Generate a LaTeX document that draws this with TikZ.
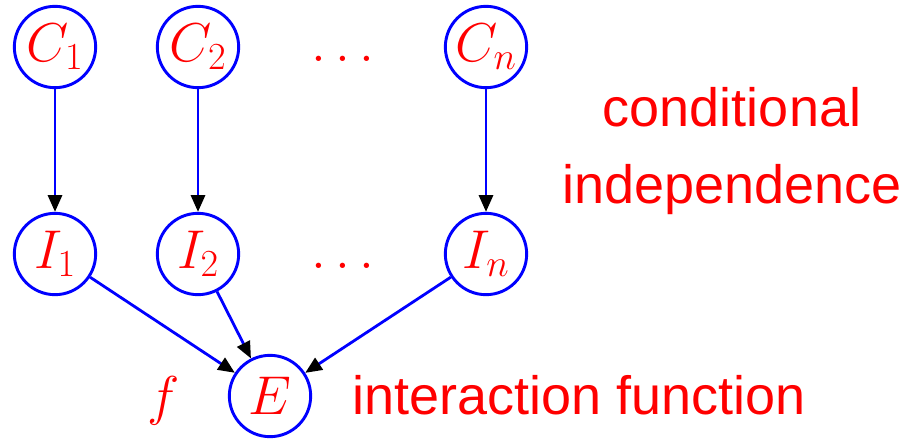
\documentclass[tikz,border=0pt]{standalone}
\usepackage{fix-cm}
\usepackage{fontspec}
\setsansfont{Liberation Sans}
\usetikzlibrary{arrows.meta}
\begin{document}
\begin{tikzpicture}[x=0.75pt,y=-0.75pt,
  var/.style={circle,draw=blue,line width=2.2pt,minimum size=61pt,inner sep=0pt,text=red,font=\fontsize{41}{48}\selectfont},
  mtext/.style={text=red,inner sep=0pt,font=\fontsize{41}{48}\selectfont},
  edge/.style={draw=blue,line width=2.1pt,-{Triangle[black,length=12.5pt,width=10.5pt]}},
  lbl/.style={text=red,inner sep=0pt,font=\fontsize{40.5}{48}\selectfont\sffamily}]
\useasboundingbox (0,0) rectangle (909,439);
\node[var] (C1) at (55,47) {$C_1$};
\node[var] (C2) at (198,47) {$C_2$};
\node[var] (Cn) at (486,47) {$C_n$};
\node[var] (I1) at (55,254) {$I_1$};
\node[var] (I2) at (198,254) {$I_2$};
\node[var] (In) at (486,254) {$I_n$};
\node[var] (E) at (270,396) {$E$};
\node[mtext,anchor=base] (d1) at ([xshift=108.75pt]C2.base) {$\dots$};
\node[mtext,anchor=base] (d2) at ([xshift=108.75pt]I2.base) {$\dots$};
\node[mtext,anchor=base] (f) at ([xshift=-80pt]E.base) {$f$};
\node[lbl,anchor=base west] (ia) at ([xshift=61.5pt]E.base) {interaction function};
\node[lbl,anchor=base] (ci1) at (732,126) {conditional};
\node[lbl,anchor=base] (ci2) at (732,203) {independence};
\draw[edge] (C1) -- (I1);
\draw[edge] (C2) -- (I2);
\draw[edge] (Cn) -- (In);
\draw[edge] (I1) -- (E);
\draw[edge] (I2) -- (E);
\draw[edge] (In) -- (E);
\end{tikzpicture}
\end{document}
